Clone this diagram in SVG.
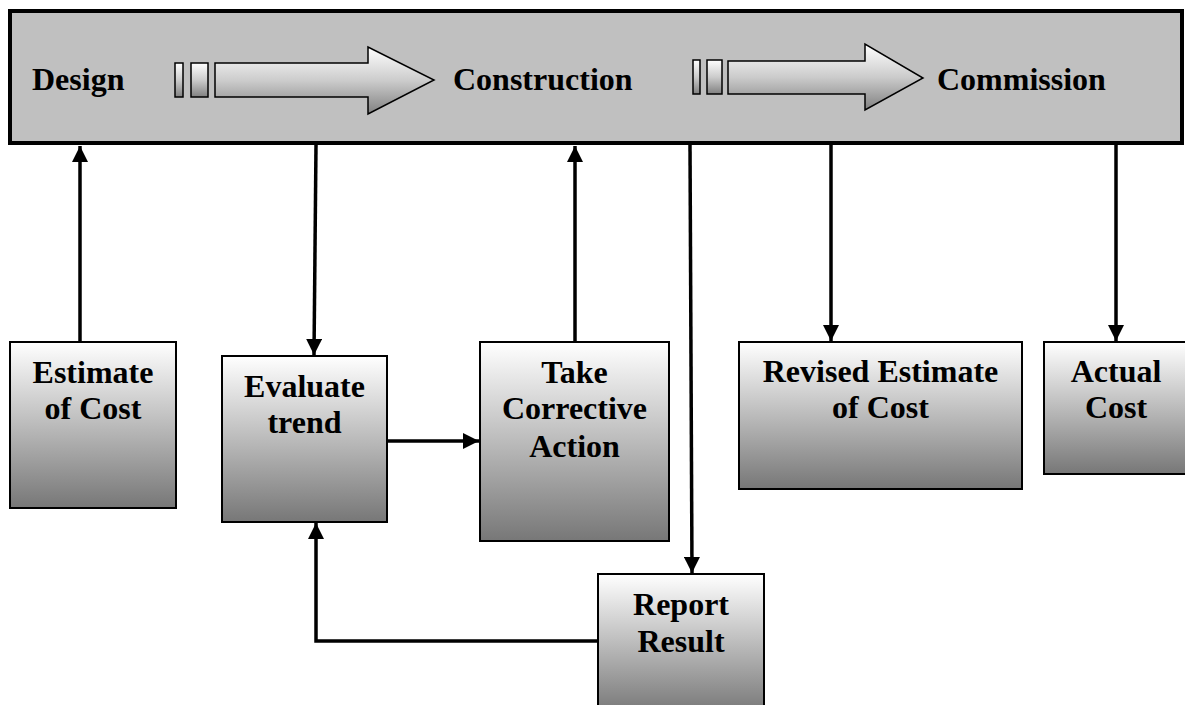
<svg xmlns="http://www.w3.org/2000/svg" width="1185" height="705" viewBox="0 0 1185 705">
<style>
.t{font-family:"Liberation Serif","Times New Roman",serif;font-weight:bold;font-size:32px;fill:#000}
.c{text-anchor:middle}
.box{fill:url(#g);stroke:#000;stroke-width:2}
.ar{fill:url(#g2);stroke:#000;stroke-width:1.5}
.ln{fill:none;stroke:#000;stroke-width:3.5}
</style>
<defs>
<linearGradient id="g" x1="0" y1="0" x2="0" y2="1">
<stop offset="0" stop-color="#ffffff"/>
<stop offset="1" stop-color="#777777"/>
</linearGradient>
<linearGradient id="g2" x1="0" y1="0" x2="0" y2="1">
<stop offset="0" stop-color="#ffffff"/>
<stop offset="0.5" stop-color="#cccccc"/>
<stop offset="1" stop-color="#808080"/>
</linearGradient>
<marker id="ah" viewBox="0 0 10 10" refX="10" refY="5" markerWidth="4.6" markerHeight="4.6" orient="auto" markerUnits="strokeWidth">
<path d="M0,0 L10,5 L0,10 z" fill="#000"/>
</marker>
</defs>

<g id="phases">
<rect x="10" y="11" width="1172" height="132" fill="#c0c0c0" stroke="#000" stroke-width="4"/>
<text class="t" x="32" y="90">Design</text>
<text class="t" x="453" y="90">Construction</text>
<text class="t" x="937" y="90">Commission</text>
<rect class="ar" x="175" y="63" width="8" height="34"/>
<rect class="ar" x="191" y="63" width="17" height="34"/>
<path class="ar" d="M215,63 H368 V47 L434,80 L368,114 V97 H215 Z"/>
<rect class="ar" x="693" y="60" width="7" height="34"/>
<rect class="ar" x="707" y="60" width="15" height="34"/>
<path class="ar" d="M728,61 H865 V44 L923,78 L865,110 V94 H728 Z"/>
</g>

<g id="estimate">
<rect class="box" x="10" y="342" width="166" height="166"/>
<text class="t c" x="93" y="383">Estimate</text>
<text class="t c" x="93" y="419">of Cost</text>
</g>
<g id="evaluate">
<rect class="box" x="222" y="356" width="165" height="166"/>
<text class="t c" x="304.5" y="397">Evaluate</text>
<text class="t c" x="304.5" y="433">trend</text>
</g>
<g id="corrective">
<rect class="box" x="480" y="342" width="189" height="199"/>
<text class="t c" x="574.5" y="383">Take</text>
<text class="t c" x="574.5" y="419">Corrective</text>
<text class="t c" x="574.5" y="457">Action</text>
</g>
<g id="revised">
<rect class="box" x="739" y="342" width="283" height="147"/>
<text class="t c" x="880.5" y="382">Revised Estimate</text>
<text class="t c" x="880.5" y="418">of Cost</text>
</g>
<g id="actual">
<rect class="box" x="1044" y="342" width="145" height="132"/>
<text class="t c" x="1116" y="382">Actual</text>
<text class="t c" x="1116" y="418">Cost</text>
</g>
<g id="report">
<rect class="box" x="598" y="574" width="166" height="140"/>
<text class="t c" x="681" y="615">Report</text>
<text class="t c" x="681" y="652">Result</text>
</g>

<g id="connectors">
<path class="ln" d="M80,342 V146" marker-end="url(#ah)"/>
<path class="ln" d="M316,145 L314,355" marker-end="url(#ah)"/>
<path class="ln" d="M575,342 V146" marker-end="url(#ah)"/>
<path class="ln" d="M387,441 H479" marker-end="url(#ah)"/>
<path class="ln" d="M690,145 L692,573" marker-end="url(#ah)"/>
<path class="ln" d="M598,641 H316 V523" marker-end="url(#ah)"/>
<path class="ln" d="M831,145 V341" marker-end="url(#ah)"/>
<path class="ln" d="M1116,145 V341" marker-end="url(#ah)"/>
</g>
</svg>
